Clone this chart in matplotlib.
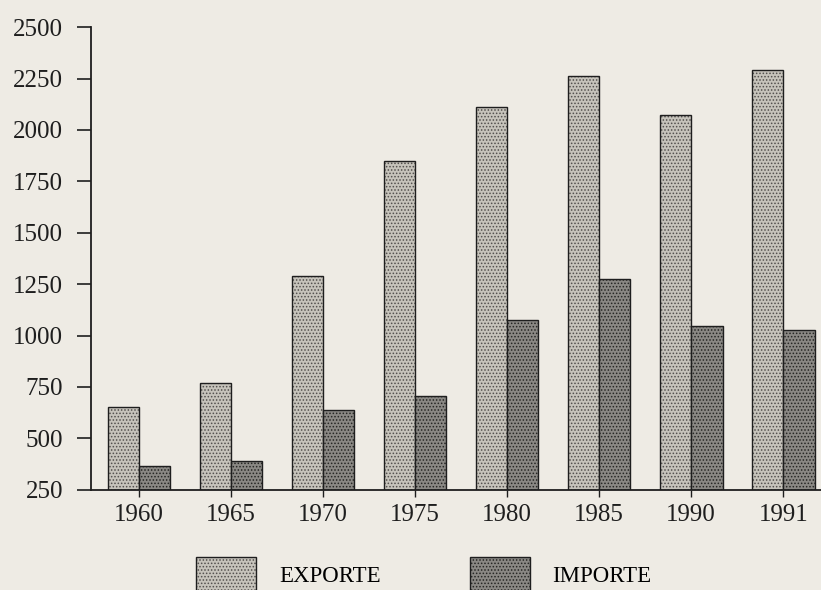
import matplotlib.pyplot as plt
import numpy as np
from matplotlib.patches import Patch

# Data
years = ['1960', '1965', '1970', '1975', '1980', '1985', '1990', '1991']
exporte = [650, 770, 1290, 1850, 2110, 2260, 2075, 2290]
importe = [365, 390, 640, 705, 1075, 1275, 1045, 1025]
y_ticks = [250, 500, 750, 1000, 1250, 1500, 1750, 2000, 2250, 2500]

bg = '#eeebe4'
exp_face, exp_dots = '#c6c3bb', (0.32, 0.31, 0.30, 1)
imp_face, imp_dots = '#8a8884', (0.15, 0.15, 0.14, 1)

plt.rcParams['font.family'] = ['Liberation Serif', 'DejaVu Serif']
plt.rcParams['hatch.linewidth'] = 0.7

fig = plt.figure(figsize=(8.21, 5.90), dpi=100, facecolor=bg)
ax = fig.add_axes([0.111, 0.17, 0.889, 0.784], facecolor=bg)

x = np.arange(len(years))
w = 0.34

b1 = ax.bar(x - w / 2, exporte, w, color=exp_face, edgecolor='#1e1e1e',
            linewidth=1.0, hatch='.....')
b2 = ax.bar(x + w / 2, importe, w, color=imp_face, edgecolor='#1e1e1e',
            linewidth=1.0, hatch='.....')
for b in b1:
    b._hatch_color = exp_dots
for b in b2:
    b._hatch_color = imp_dots

ax.set_ylim(250, 2500)
ax.set_xlim(-0.52, 7.41)
ax.set_yticks(y_ticks)
ax.set_xticks(x)
ax.set_xticklabels(years)

for s in ['top', 'right']:
    ax.spines[s].set_visible(False)
for s in ['left', 'bottom']:
    ax.spines[s].set_linewidth(1.3)
    ax.spines[s].set_color('#1e1e1e')

ax.tick_params(axis='y', length=10, width=1.2, colors='#1e1e1e', labelsize=18, pad=10)
ax.tick_params(axis='x', length=5, width=1.0, colors='#1e1e1e', labelsize=18, pad=5)

h1 = Patch(facecolor=exp_face, edgecolor='#1e1e1e', hatch='.....', label='EXPORTE')
h2 = Patch(facecolor=imp_face, edgecolor='#1e1e1e', hatch='.....', label='IMPORTE')
leg = fig.legend(handles=[h1, h2], loc='center left',
                 bbox_to_anchor=(185 / 821, 1 - 575 / 590), bbox_transform=fig.transFigure,
                 ncol=2, frameon=False, fontsize=16.5, borderpad=0, handlelength=2.6,
                 handleheight=2.0, handletextpad=1.0, columnspacing=3.9)
for p, c in zip(leg.get_patches(), [exp_dots, imp_dots]):
    p._hatch_color = c

fig.savefig('out.png', dpi=100, facecolor=bg)
